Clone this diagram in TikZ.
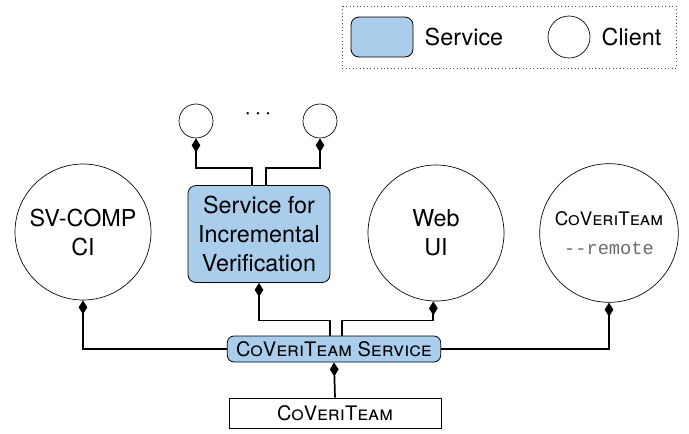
\documentclass[tikz,border=0pt]{standalone}
\usepackage{fontspec}
\setmainfont{TeX Gyre Heros}
\setmonofont{Liberation Mono}
\usepackage{tikz}
\usetikzlibrary{arrows.meta}
\definecolor{svcfill}{HTML}{A9CDEA}
\definecolor{remotegray}{HTML}{6A6A6A}

\tikzset{
  service/.style={draw, line width=0.6pt, fill=svcfill, rounded corners=6pt,
    align=center, inner sep=0pt},
  client/.style={draw, circle, line width=0.5pt, inner sep=0pt, align=center},
  uses/.style={line width=1.3pt, -{Diamond[length=10.5pt, width=6.5pt]}},
}

\begin{document}
\begin{tikzpicture}[x=0.75pt, y=-0.75pt, font=\fontsize{17.5}{21.75}\selectfont]
  \useasboundingbox (0,0) rectangle (689,433);
  % legend
  \draw[dotted, black!70, line width=0.6pt] (342,6) rectangle (676,68);
  \node[service, minimum width=46.5pt, minimum height=30pt] (keysvc) at (382,37) {};
  \node[anchor=west] (keysvctxt) at (420,37) {Service};
  \node[client, minimum size=31.5pt] (keycli) at (569,37) {};
  \node[anchor=west] (keyclitxt) at (597,37) {Client};

  % clients
  \node[client, minimum size=102pt] (svcomp) at (83,232) {SV-COMP\\CI};
  \node[client, minimum size=102pt] (webui) at (436,233) {Web\\UI};
  \node[client, minimum size=104pt] (remote) at (609,233)
    {\fontsize{14}{21.75}\selectfont\textsc{CoVeriTeam}\\
     {\fontsize{14}{14}\selectfont\color{remotegray}\ttfamily -{}-remote}};
  \node[client, minimum size=25.5pt] (incA) at (196,121) {};
  \node[client, minimum size=25.5pt] (incB) at (320,121) {};
  \node (dots) at (258,114) {$\cdots$};

  % services
  \node[service, minimum width=106.5pt, minimum height=72.75pt] (incver) at (259,234)
    {Service for\\Incremental\\Verification};
  \node[service, minimum width=160pt, minimum height=19.5pt, rounded corners=5pt]
    (cvtsvc) at (334,349) {\fontsize{15}{15}\selectfont\textsc{CoVeriTeam Service}};
  \node[draw, line width=0.6pt, minimum width=159pt, minimum height=22.5pt, inner sep=0pt]
    (cvt) at (335,413) {\fontsize{15}{15}\selectfont\textsc{CoVeriTeam}};

  % connectors
  \draw[uses] (cvtsvc.west) -| (svcomp.south);
  \draw[uses] (cvtsvc.east) -| (remote.south);
  \draw[uses] ([xshift=-3pt]cvtsvc.north) -- ++(0,-15) -| (incver.south);
  \draw[uses] ([xshift=6pt]cvtsvc.north) -- ++(0,-15) -| ([xshift=-2pt]webui.south);
  \draw[uses] (cvt.north) -- (cvtsvc.south);
  \draw[uses] ([xshift=-5pt]incver.north) -- ++(0,-17) -| (incA.south);
  \draw[uses] ([xshift=5pt]incver.north) -- ++(0,-17) -| (incB.south);
\end{tikzpicture}
\end{document}
